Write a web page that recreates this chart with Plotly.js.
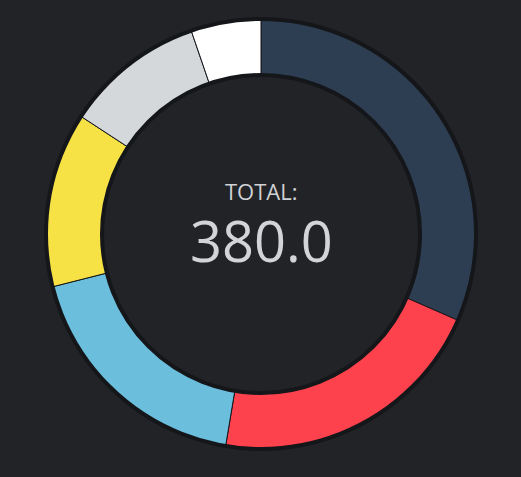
<!DOCTYPE html>
<html>
<head>
<meta charset="utf-8">
<script src="https://cdn.plot.ly/plotly-3.0.1.min.js"></script>
<style>html,body{margin:0;padding:0;background:#222327;}</style>
</head>
<body>
<div id="chart" style="width:521px;height:477px;"></div>
<script>
const labels = ["Navy", "Red", "Blue", "Yellow", "Gray", "White"];
const values = [120, 80, 70, 50, 40, 20];
const colors = ["#2E3E52", "#FD424D", "#6CBEDD", "#F7E245", "#D5D8DA", "#FFFFFF"];
const totalLabel = "TOTAL:";
const total = values.reduce((a, b) => a + b, 0);

const W = 521, H = 477;
const cx = 261, cy = 234, R = 215, Rin = 159;

const trace = {
  type: "pie",
  labels: labels,
  values: values,
  sort: false,
  direction: "clockwise",
  rotation: 0,
  hole: Rin / R,
  textinfo: "none",
  hoverinfo: "none",
  marker: { colors: colors, line: { color: "#141619", width: 1 } },
  domain: { x: [(cx - R) / W, (cx + R) / W], y: [1 - (cy + R) / H, 1 - (cy - R) / H] }
};

const ring = (r) => ({
  type: "circle", xref: "paper", yref: "paper",
  xsizemode: "pixel", ysizemode: "pixel",
  xanchor: cx / W, yanchor: 1 - cy / H,
  x0: -r, x1: r, y0: -r, y1: r,
  line: { color: "#141619", width: 4 }
});

const layout = {
  width: W, height: H,
  margin: { l: 0, r: 0, t: 0, b: 0 },
  paper_bgcolor: "#222327",
  plot_bgcolor: "#222327",
  showlegend: false,
  shapes: [ring(R), ring(Rin)],
  annotations: [
    { text: totalLabel, x: cx / W, y: 1 - 191 / H, xref: "paper", yref: "paper",
      showarrow: false, xanchor: "center", yanchor: "middle",
      font: { family: "Open Sans", size: 22, color: "#CFD2D4" } },
    { text: total.toFixed(1), x: cx / W, y: 1 - 240 / H, xref: "paper", yref: "paper",
      showarrow: false, xanchor: "center", yanchor: "middle",
      font: { family: "Open Sans", size: 56, color: "#D3D4D5" } }
  ]
};

Plotly.newPlot("chart", [trace], layout, { displayModeBar: false, staticPlot: true });
</script>
</body>
</html>
